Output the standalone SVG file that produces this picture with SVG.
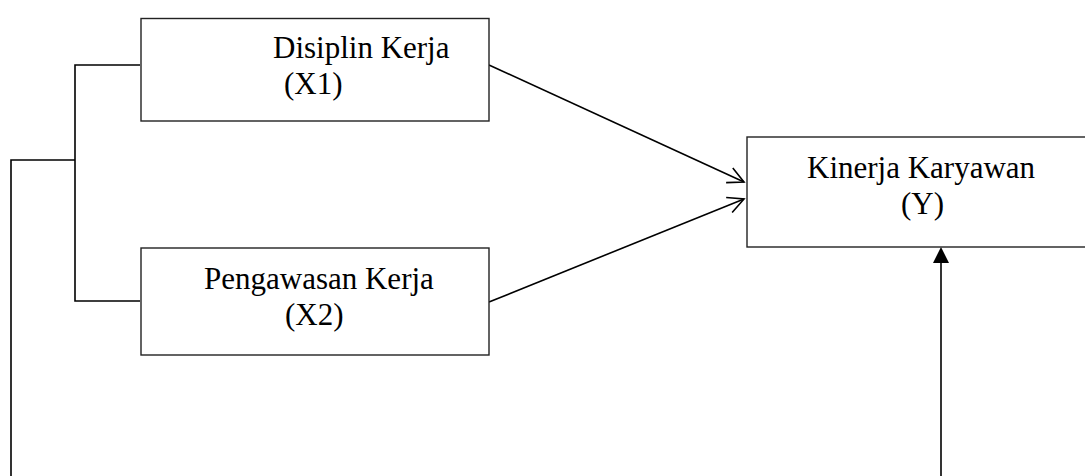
<svg xmlns="http://www.w3.org/2000/svg" width="1085" height="476" viewBox="0 0 1085 476">
  <style>
    .box { fill: #fff; stroke: #222; stroke-width: 1.4; }
    .lbl { font-family: "Liberation Serif", "Times New Roman", serif; font-size: 31px; fill: #000; }
    .ln { fill: none; stroke: #000; stroke-width: 1.6; }
  </style>
  <defs>
    <marker id="open" viewBox="0 0 20 20" refX="18" refY="10" markerWidth="20" markerHeight="20" markerUnits="userSpaceOnUse" orient="auto">
      <path d="M2,2 L18,10 L2,18" fill="none" stroke="#000" stroke-width="1.6"/>
    </marker>
  </defs>
  <rect width="1085" height="476" fill="#fff"/>
  <g id="connectors">
    <polyline class="ln" points="140,65 75,65 75,301 140,301"/>
    <polyline class="ln" points="75,160 11,160 11,476"/>
    <line class="ln" x1="489" y1="65" x2="744" y2="182" marker-end="url(#open)"/>
    <line class="ln" x1="489" y1="302" x2="744" y2="199" marker-end="url(#open)"/>
    <line class="ln" x1="941" y1="476" x2="941" y2="262" stroke-width="2"/>
    <polygon points="941,247 933,263 949,263" fill="#000"/>
  </g>
  <g id="node-x1">
    <rect class="box" x="141" y="18.5" width="348" height="102.5"/>
    <text class="lbl" x="273" y="58">Disiplin Kerja</text>
    <text class="lbl" x="284" y="94">(X1)</text>
  </g>
  <g id="node-x2">
    <rect class="box" x="141" y="248" width="348" height="107"/>
    <text class="lbl" x="204" y="289">Pengawasan Kerja</text>
    <text class="lbl" x="285" y="325">(X2)</text>
  </g>
  <g id="node-y">
    <rect class="box" x="747" y="137" width="345" height="110"/>
    <text class="lbl" x="807" y="178">Kinerja Karyawan</text>
    <text class="lbl" x="901" y="214">(Y)</text>
  </g>
</svg>
